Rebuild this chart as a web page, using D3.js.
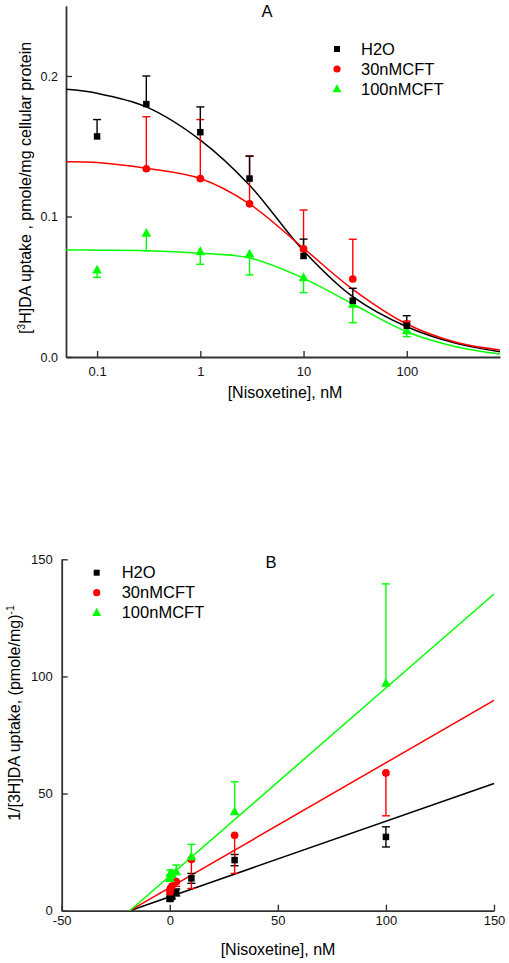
<!DOCTYPE html>
<html>
<head>
<meta charset="utf-8">
<script src="https://cdn.jsdelivr.net/npm/d3@7"></script>
<style>
  html, body { margin: 0; padding: 0; background: #fff; }
  svg { display: block; font-family: "Liberation Sans", Arial, sans-serif; }
</style>
</head>
<body>
<svg id="chart" width="509" height="963"></svg>
<script>
// ---------------- DATA ----------------
const seriesNames = ["H2O", "30nMCFT", "100nMCFT"];
const seriesColors = ["#000000", "#ff0000", "#00ff00"];

// Panel A : uptake vs log [Nisoxetine]
const concA = [0.1, 0.3, 1, 3, 10, 30, 100];
const h2oA = [0.157, 0.180, 0.160, 0.127, 0.0719, 0.0401, 0.0223];
const h2oAErr = [0.012, 0.020, 0.018, 0.016, 0.012, 0.0088, 0.0071];        // drawn upward
const mcft30A = [null, 0.134, 0.127, 0.109, 0.0769, 0.0555, 0.0235];
const mcft30AErr = [null, 0.037, 0.042, 0.034, 0.0277, 0.0283, 0.002];      // drawn upward
const mcft100A = [0.0619, 0.088, 0.075, 0.0733, 0.0565, 0.0375, 0.0187];
const mcft100AErr = [0.0052, 0.0123, 0.009, 0.0149, 0.0107, 0.0131, 0.0042]; // drawn downward

// fitted curves in panel A
const fitXA = [0.05, 0.1, 0.3, 1, 3, 10, 30, 100, 300, 800];
const h2oFitA = [0.1905, 0.1877, 0.178, 0.1544, 0.1223, 0.0756, 0.0429, 0.0215, 0.0097, 0.0038];
const mcft30FitA = [0.139, 0.1385, 0.1343, 0.127, 0.1089, 0.0774, 0.0482, 0.0235, 0.0105, 0.005];
const mcft100FitA = [0.0762, 0.076, 0.0757, 0.0738, 0.0705, 0.056, 0.0377, 0.018, 0.0073, 0.0021];

const xTicksA = [0.1, 1, 10, 100];
const xTickLabelsA = ["0.1", "1", "10", "100"];
const yTicksA = [0, 0.1, 0.2];
const yTickLabelsA = ["0.0", "0.1", "0.2"];

// Panel B : 1/uptake vs [Nisoxetine]
const concB = [0.1, 0.3, 1, 3, 10, 30, 100];
const h2oB = [5.0, 5.5, 6.0, 7.8, 13.8, 21.6, 31.5];
const h2oBErr = [0.8, 0.8, 0.8, 1.5, 2.1, 2.4, 4.3];          // both directions
const mcft30B = [8.0, 9.5, 10.5, 12.4, 21.9, 32.2, 58.8];
const mcft30BErr = [1.0, 1.0, 1.5, 2.0, 12.4, 16.3, 18.3];    // drawn downward
const mcft100B = [13.8, 15.9, 15.5, 16.6, 23.0, 42.2, 97.1];
const mcft100BErr = [1.5, 1.5, 1.5, 2.9, 5.3, 12.8, 42.4];    // drawn upward

// fitted lines in panel B
const fitXB = [-18.5, 150];
const h2oFitB = [0, 54.3];
const mcft30FitB = [0, 89.8];
const mcft100FitB = [0, 135.2];

const xTicksB = [-50, 0, 50, 100, 150];
const xTickLabelsB = ["-50", "0", "50", "100", "150"];
const yTicksB = [0, 50, 100, 150];
const yTickLabelsB = ["0", "50", "100", "150"];

// ---------------- DRAW ----------------
const svg = d3.select("#chart");
const FONT = '"Liberation Sans", Arial, sans-serif';

function marker(g, type, cx, cy, color, s) {
  if (type === 0) {
    g.append("rect").attr("x", cx - s/2).attr("y", cy - s/2).attr("width", s).attr("height", s).attr("fill", color);
  } else if (type === 1) {
    g.append("circle").attr("cx", cx).attr("cy", cy).attr("r", s/2 + 0.6).attr("fill", color);
  } else {
    const h = s * 1.35;
    g.append("path").attr("d", `M${cx},${cy - h*0.6} L${cx + h*0.55},${cy + h*0.4} L${cx - h*0.55},${cy + h*0.4} Z`).attr("fill", color);
  }
}

function errBar(g, x, y0, y1, color) {
  g.append("line").attr("x1", x).attr("x2", x).attr("y1", y0).attr("y2", y1)
    .attr("stroke", color).attr("stroke-width", 1.4);
  g.append("line").attr("x1", x - 4).attr("x2", x + 4).attr("y1", y1).attr("y2", y1)
    .attr("stroke", color).attr("stroke-width", 1.4);
}

function styleAxis(g) {
  g.selectAll("path.domain").attr("stroke", "#333").attr("stroke-width", 1.8);
  g.selectAll(".tick line").attr("stroke", "#333").attr("stroke-width", 1.4);
  g.selectAll(".tick text").attr("fill", "#111").attr("font-family", FONT);
}

// ===== Panel A =====
const xA = d3.scaleLog().domain([0.05, 800]).range([66, 500]);
const yA = d3.scaleLinear().domain([0, 0.25]).range([357, 5.75]);
const gA = svg.append("g");

const axXA = gA.append("g").attr("transform", `translate(0,${yA(0)})`)
  .call(d3.axisBottom(xA).tickValues(xTicksA).tickFormat((d, i) => xTickLabelsA[i])
    .tickSizeInner(-6).tickSizeOuter(0).tickPadding(10));
axXA.selectAll(".tick text").attr("font-size", 13);
styleAxis(axXA);

const axYA = gA.append("g").attr("transform", `translate(${xA(0.05)},0)`)
  .call(d3.axisLeft(yA).tickValues(yTicksA).tickFormat((d, i) => yTickLabelsA[i])
    .tickSizeInner(-6).tickSizeOuter(0).tickPadding(8));
axYA.selectAll(".tick text").attr("font-size", 12.5);
styleAxis(axYA);

// curves
const lineA = d3.line().x(d => xA(d[0])).y(d => yA(d[1])).curve(d3.curveCatmullRom.alpha(0.5));
[h2oFitA, mcft30FitA, mcft100FitA].forEach((ys, k) => {
  gA.append("path").datum(fitXA.map((x, i) => [x, ys[i]]))
    .attr("d", lineA).attr("fill", "none").attr("stroke", seriesColors[k]).attr("stroke-width", 1.5);
});

// error bars & points
const dataA = [[h2oA, h2oAErr, 1], [mcft30A, mcft30AErr, 1], [mcft100A, mcft100AErr, -1]];
[2, 1, 0].forEach(k => {
  const [vals, errs, dir] = dataA[k];
  vals.forEach((v, i) => {
    if (v == null) return;
    errBar(gA, xA(concA[i]), yA(v), yA(v + dir * errs[i]), seriesColors[k]);
  });
});
[2, 1, 0].forEach(k => {
  const [vals] = dataA[k];
  vals.forEach((v, i) => {
    if (v == null) return;
    marker(gA, k, xA(concA[i]), yA(v), seriesColors[k], 6.5);
  });
});

// title, labels, legend A
gA.append("text").attr("x", 267).attr("y", 17).attr("text-anchor", "middle")
  .attr("font-size", 16.5).attr("font-family", FONT).text("A");
gA.append("text").attr("x", 285).attr("y", 398).attr("text-anchor", "middle")
  .attr("font-size", 16).attr("font-family", FONT).text("[Nisoxetine], nM");
const ylA = gA.append("text").attr("transform", "translate(31,188) rotate(-90)")
  .attr("text-anchor", "middle").attr("font-size", 16).attr("font-family", FONT);
ylA.append("tspan").text("[");
ylA.append("tspan").attr("font-size", 10.5).attr("dy", -6).text("3");
ylA.append("tspan").attr("dy", 6).text("H]DA uptake , pmole/mg cellular protein");

seriesNames.forEach((name, k) => {
  const cy = 49 + k * 20;
  marker(gA, k, 337, cy, seriesColors[k], 6);
  gA.append("text").attr("x", 361).attr("y", cy + 5.5).attr("font-size", 16.5)
    .attr("font-family", FONT).text(name);
});

// ===== Panel B =====
const xB = d3.scaleLinear().domain([-50, 150]).range([61.7, 494]);
const yB = d3.scaleLinear().domain([0, 150]).range([910.7, 559.3]);
const gB = svg.append("g");

const axXB = gB.append("g").attr("transform", `translate(0,${yB(0)})`)
  .call(d3.axisBottom(xB).tickValues(xTicksB).tickFormat((d, i) => xTickLabelsB[i])
    .tickSizeInner(-6).tickSizeOuter(0).tickPadding(5));
axXB.selectAll(".tick text").attr("font-size", 13);
styleAxis(axXB);

const axYB = gB.append("g").attr("transform", `translate(${xB(-50)},0)`)
  .call(d3.axisLeft(yB).tickValues(yTicksB).tickFormat((d, i) => yTickLabelsB[i])
    .tickSizeInner(-6).tickSizeOuter(0).tickPadding(9));
axYB.selectAll(".tick text").attr("font-size", 13);
styleAxis(axYB);

// fit lines
const lineB = d3.line().x(d => xB(d[0])).y(d => yB(d[1]));
[h2oFitB, mcft30FitB, mcft100FitB].forEach((ys, k) => {
  gB.append("path").datum(fitXB.map((x, i) => [x, ys[i]]))
    .attr("d", lineB).attr("fill", "none").attr("stroke", seriesColors[k]).attr("stroke-width", 1.5);
});

const dataB = [[h2oB, h2oBErr, 0], [mcft30B, mcft30BErr, -1], [mcft100B, mcft100BErr, 1]];
[0, 1, 2].forEach(k => {
  const [vals, errs, dir] = dataB[k];
  vals.forEach((v, i) => {
    const x = xB(concB[i]);
    if (dir === 0) {
      errBar(gB, x, yB(v), yB(v + errs[i]), seriesColors[k]);
      errBar(gB, x, yB(v), yB(v - errs[i]), seriesColors[k]);
    } else {
      errBar(gB, x, yB(v), yB(v + dir * errs[i]), seriesColors[k]);
    }
  });
});
[0, 1, 2].forEach(k => {
  const [vals] = dataB[k];
  vals.forEach((v, i) => {
    marker(gB, k, xB(concB[i]), yB(v), seriesColors[k], 6.5);
  });
});

gB.append("text").attr("x", 271).attr("y", 568).attr("text-anchor", "middle")
  .attr("font-size", 16.5).attr("font-family", FONT).text("B");
gB.append("text").attr("x", 278).attr("y", 955).attr("text-anchor", "middle")
  .attr("font-size", 16).attr("font-family", FONT).text("[Nisoxetine], nM");
const ylB = gB.append("text").attr("transform", "translate(20,713) rotate(-90)")
  .attr("text-anchor", "middle").attr("font-size", 16).attr("font-family", FONT);
ylB.append("tspan").text("1/[3H]DA uptake, (pmole/mg)");
ylB.append("tspan").attr("font-size", 10.5).attr("dy", -6).text("-1");

seriesNames.forEach((name, k) => {
  const cy = 572.7 + k * 20;
  marker(gB, k, 96.7, cy, seriesColors[k], 6);
  gB.append("text").attr("x", 121.7).attr("y", cy + 5.5).attr("font-size", 16.5)
    .attr("font-family", FONT).text(name);
});
</script>
</body>
</html>
